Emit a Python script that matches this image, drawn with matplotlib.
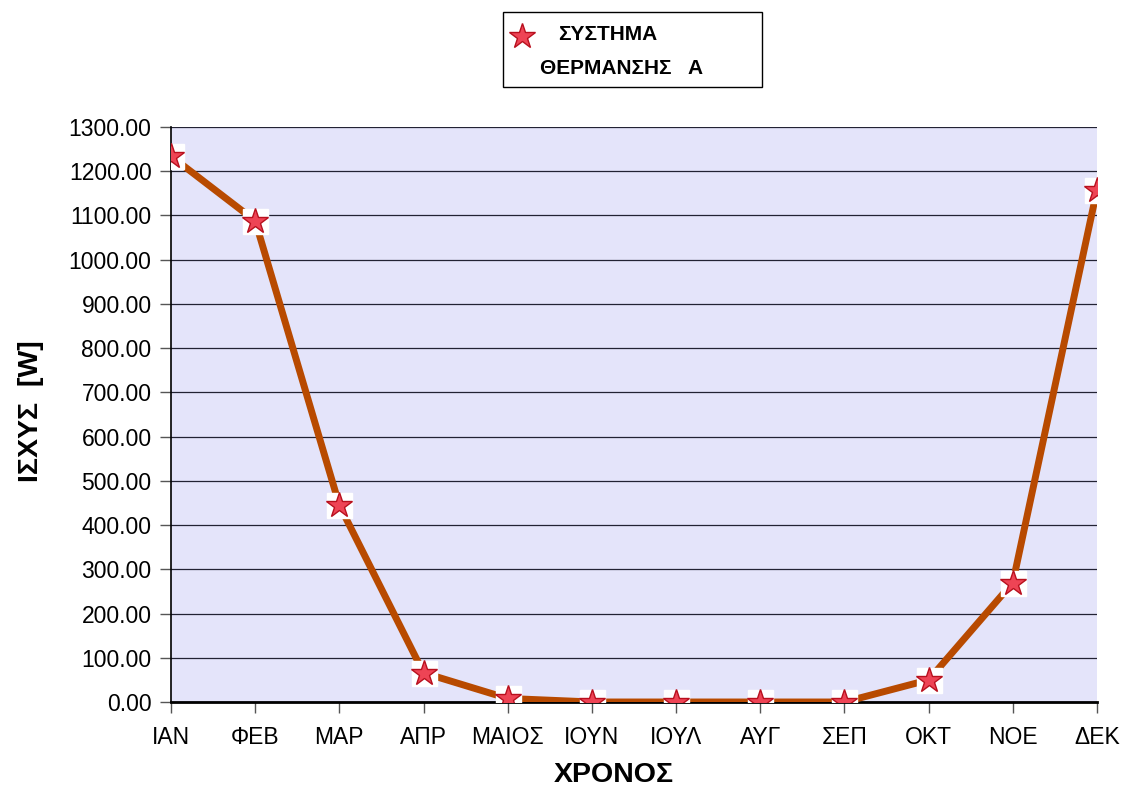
import matplotlib
matplotlib.use("Agg")
import matplotlib.pyplot as plt
from matplotlib.lines import Line2D
from matplotlib.patches import Rectangle
from matplotlib.ticker import FormatStrFormatter

plt.rcParams['font.family'] = ['Liberation Sans', 'DejaVu Sans']

months = ["ΙΑΝ", "ΦΕΒ", "ΜΑΡ", "ΑΠΡ", "ΜΑΙΟΣ", "ΙΟΥΝ", "ΙΟΥΛ", "ΑΥΓ", "ΣΕΠ", "ΟΚΤ", "ΝΟΕ", "ΔΕΚ"]
power = [1234, 1088, 445, 66, 8, 0, 0, 0, 0, 50, 270, 1158]
series_label_1 = "ΣΥΣΤΗΜΑ"
series_label_2 = "ΘΕΡΜΑΝΣΗΣ   Α"
yticks = list(range(0, 1301, 100))

line_color = "#B84A00"
star_face = "#EE4455"
star_edge = "#B8101E"
bg = "#E4E4FA"

fig = plt.figure(figsize=(11.23, 7.90), dpi=100)
ax = fig.add_axes([171/1123, 88/790, 926/1123, 575/790])
ax.set_facecolor(bg)

x = list(range(len(months)))
ax.plot(x, power, color=line_color, lw=5, zorder=3, solid_joinstyle='miter')
ax.plot(x, power, linestyle='none', marker='s', ms=18, mfc='white', mec='white', zorder=4)
ax.plot(x, power, linestyle='none', marker='*', ms=19, mfc=star_face, mec=star_edge, mew=1.0, zorder=5)

ax.set_xlim(0, len(months) - 1)
ax.set_ylim(0, 1300)
ax.set_yticks(yticks)
ax.yaxis.set_major_formatter(FormatStrFormatter('%.2f'))
ax.set_xticks(x)
ax.set_xticklabels(months)
ax.grid(axis='y', color='#222233', lw=0.9, zorder=1)
ax.set_axisbelow(True)

ax.tick_params(axis='both', direction='out', length=8, width=1.0, color='#555555', labelsize=16.5)
ax.tick_params(axis='x', pad=9)
ax.tick_params(axis='y', pad=6)

ax.spines['top'].set_visible(False)
ax.spines['right'].set_visible(False)
ax.spines['left'].set_color('black')
ax.spines['left'].set_linewidth(1.2)
ax.spines['bottom'].set_color('black')
ax.spines['bottom'].set_linewidth(2.0)
ax.spines['bottom'].set_zorder(2)

ax.set_xlabel("ΧΡΟΝΟΣ", fontsize=20.5, fontweight='bold')
ax.set_ylabel("ΙΣΧΥΣ  [W]", fontsize=20.5, fontweight='bold')
ax.xaxis.set_label_coords(0.478, -0.105)
ax.yaxis.set_label_coords(-0.137, 0.505)

# legend box
fig.add_artist(Rectangle((503/1123, (790-87)/790), 259/1123, 75/790,
                         transform=fig.transFigure, facecolor='white',
                         edgecolor='black', lw=1.0))
fig.add_artist(Line2D([522/1123], [(790-36)/790], transform=fig.transFigure,
                      marker='*', ms=19, mfc=star_face, mec=star_edge, mew=1.0, linestyle='none'))
fig.text(558/1123, (790-35)/790, series_label_1, fontsize=15, fontweight='bold',
         ha='left', va='center')
fig.text(540/1123, (790-68)/790, series_label_2, fontsize=15, fontweight='bold',
         ha='left', va='center')

fig.savefig("out.png", dpi=100)
